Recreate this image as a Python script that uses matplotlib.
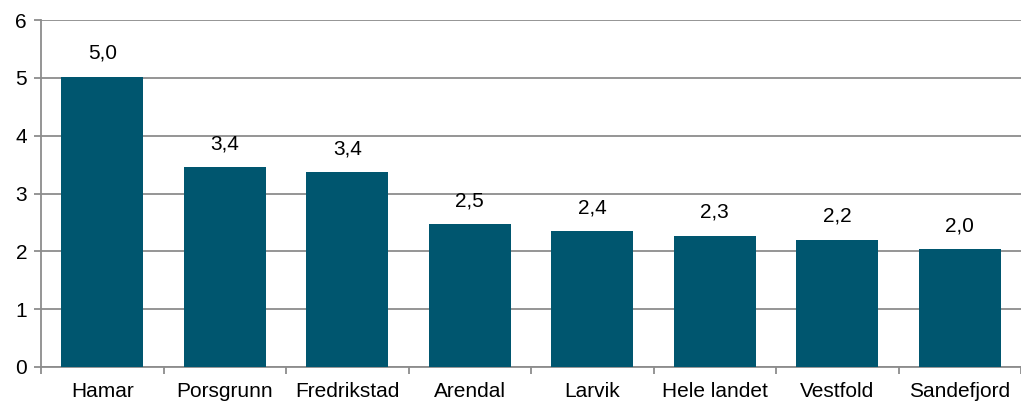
import matplotlib.pyplot as plt
import numpy as np

plt.rcParams["font.family"] = ["Liberation Sans", "DejaVu Sans"]

categories = ["Hamar", "Porsgrunn", "Fredrikstad", "Arendal", "Larvik",
              "Hele landet", "Vestfold", "Sandefjord"]
values = [5.02, 3.45, 3.37, 2.47, 2.35, 2.27, 2.20, 2.04]
value_labels = ["5,0", "3,4", "3,4", "2,5", "2,4", "2,3", "2,2", "2,0"]

bar_color = "#00566F"
grid_color = "#8C8C8C"
fs = 15

fig = plt.figure(figsize=(10.21, 4.03), dpi=100)
ax = fig.add_axes([41 / 1021, 1 - 367 / 403, 1 - 41 / 1021, (367 - 20) / 403])

x = np.arange(len(categories))
ax.bar(x, values, width=0.67, color=bar_color, zorder=3)

for xi, v, lab in zip(x, values, value_labels):
    ax.annotate(lab, (xi, v), xytext=(0, 10), textcoords="offset points",
                ha="center", va="bottom", fontsize=fs, color="#000000")

ax.set_xlim(-0.5, len(categories) - 0.5)
ax.set_ylim(0, 6)
ax.set_yticks(range(0, 7))
ax.yaxis.grid(True, color=grid_color, linewidth=1.3, zorder=0)

ax.set_xticks(x)
ax.set_xticklabels(categories, fontsize=fs)
ax.set_xticks(np.arange(len(categories) + 1) - 0.5, minor=True)
ax.tick_params(axis="x", which="major", length=0, pad=11)
ax.tick_params(axis="x", which="minor", length=5, color=grid_color, width=1.3)
ax.tick_params(axis="y", length=5, color=grid_color, width=1.3, labelsize=fs, pad=5)

for s in ["top", "right"]:
    ax.spines[s].set_visible(False)
for s in ["left", "bottom"]:
    ax.spines[s].set_color(grid_color)
    ax.spines[s].set_linewidth(1.3)

fig.savefig("out.png", dpi=100)
